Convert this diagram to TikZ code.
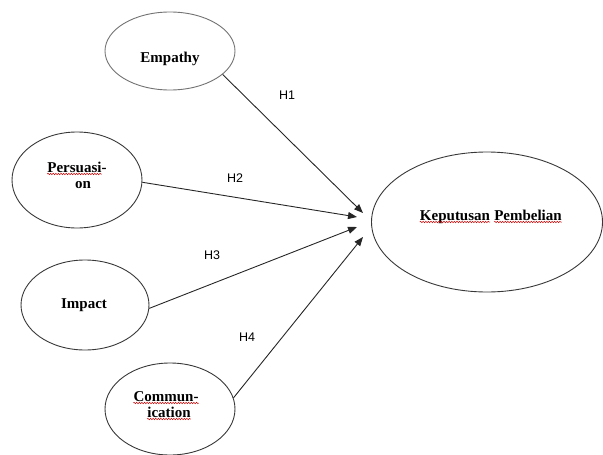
\documentclass[tikz,border=0pt]{standalone}
\usepackage{fontspec}
\setmainfont{Liberation Serif}
\newfontfamily\labfont{Liberation Sans}
\usetikzlibrary{shapes.geometric,arrows.meta,decorations.pathmorphing,calc}
\begin{document}
\begin{tikzpicture}[x=1pt,y=-1pt,
  ell/.style={draw=black!78, line width=0.9pt, ellipse, inner sep=0},
  vtext/.style={font=\fontsize{15}{17}\selectfont\bfseries, inner sep=0, anchor=base},
  hlab/.style={font=\labfont\fontsize{12.5}{14}\selectfont, inner sep=0},
  arr/.style={draw=black!85, line width=0.9pt, -{Triangle[length=9pt,width=7pt]}},
  wavy/.style={draw=red!80!black, line width=0.5pt, decorate, decoration={snake,amplitude=0.7pt,segment length=2.6pt}}]
\useasboundingbox (0,0) rectangle (603,455);
% ellipses
\node[ell, draw=black!55, minimum width=130pt, minimum height=78pt] (emp) at (170,51) {};
\node[ell, minimum width=130pt, minimum height=96pt] (pers) at (77,180) {};
\node[ell, minimum width=128pt, minimum height=90pt] (imp) at (85,305) {};
\node[ell, minimum width=130pt, minimum height=92pt] (comm) at (170,409) {};
\node[ell, minimum width=231pt, minimum height=140pt] (kep) at (487,222) {};
% texts
\node[vtext] (empT) at (170,62) {Empathy};
\node[vtext] (persT1) at (77,172) {Persuasi-};
\node[vtext] (persT2) at (83,188) {on};
\node[vtext] (impT) at (84,308) {Impact};
\node[vtext] (commT1) at (166,401) {Commun-};
\node[vtext] (commT2) at (169,417) {ication};
\node[vtext] (kepT1) at (455,220) {Keputusan};
\node[vtext] (kepT2) at (528,220) {Pembelian};
% spell-check underlines
\draw[wavy] ($(persT1.base west)+(0,2)$) -- ($(persT1.base east)+(-5,2)$);
\draw[wavy] ($(commT1.base west)+(0,2)$) -- ($(commT1.base east)+(0,2)$);
\draw[wavy] ($(commT2.base west)+(0,2)$) -- ($(commT2.base east)+(0,2)$);
\draw[wavy] ($(kepT1.base west)+(0,2)$) -- ($(kepT1.base east)+(0,2)$);
\draw[wavy] ($(kepT2.base west)+(0,2)$) -- ($(kepT2.base east)+(0,2)$);
% arrow targets
\coordinate (t1) at (363,213);
\coordinate (t2) at (357,217);
\coordinate (t3) at (357,227);
\coordinate (t4) at (363,237);
% arrows
\draw[arr] (emp.-24) -- (t1);
\draw[arr] (pers.-2) -- (t2);
\draw[arr] (imp.-3) -- (t3);
\draw[arr] (comm.10) -- (t4);
% labels
\node[hlab] (h1) at (287,95) {H1};
\node[hlab] (h2) at (235,178) {H2};
\node[hlab] (h3) at (212,255) {H3};
\node[hlab] (h4) at (247,337) {H4};
\end{tikzpicture}
\end{document}
